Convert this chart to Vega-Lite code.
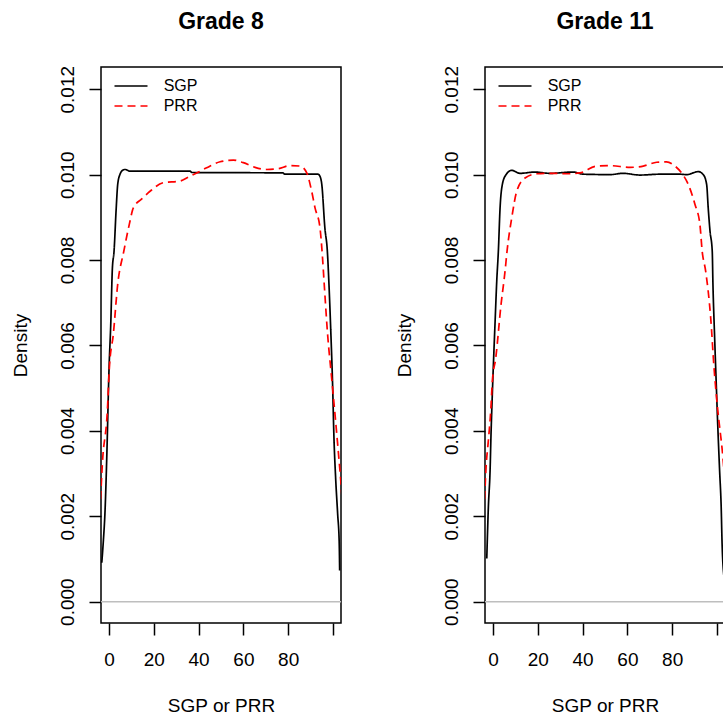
{
  "$schema": "https://vega.github.io/schema/vega-lite/v6.json",
  "padding": {"left": 10, "top": 9, "right": 0, "bottom": 0},
  "background": "white",
  "config": {
    "font": "Liberation Sans",
    "view": {"stroke": "black", "strokeWidth": 1.5},
    "axis": {
      "grid": false, "domain": false, "tickColor": "black", "tickSize": 12, "tickWidth": 1.5,
      "labelFont": "Liberation Sans", "labelFontSize": 19, "labelColor": "black",
      "titleFont": "Liberation Sans", "titleFontSize": 19, "titleFontWeight": "normal", "titleColor": "black",
      "labelFlush": false, "labelOverlap": false
    },
    "title": {"font": "Liberation Sans", "fontSize": 23, "fontWeight": "bold", "color": "black", "baseline": "alphabetic", "offset": 31.7, "anchor": "middle"},
    "legend": {"symbolStrokeWidth": 1.7, "labelFontSize": 16, "labelFont": "Liberation Sans", "labelColor": "black", "padding": 0, "rowPadding": 4}
  },
  "bounds": "flush",
  "spacing": 144,
  "datasets": {
    "g8": [
      {"series": "SGP", "x": -3.26, "y": 0.00091}, {"series": "SGP", "x": -2.54, "y": 0.00143}, {"series": "SGP", "x": -1.79, "y": 0.00213}, {"series": "SGP", "x": -1.03, "y": 0.00337}, {"series": "SGP", "x": 0, "y": 0.00547}, {"series": "SGP", "x": 0.76, "y": 0.0065}, {"series": "SGP", "x": 1.47, "y": 0.00779}, {"series": "SGP", "x": 2.23, "y": 0.00821}, {"series": "SGP", "x": 3.13, "y": 0.00915}, {"series": "SGP", "x": 3.88, "y": 0.00978}, {"series": "SGP", "x": 4.91, "y": 0.01001}, {"series": "SGP", "x": 5.8, "y": 0.01009}, {"series": "SGP", "x": 7.14, "y": 0.01012}, {"series": "SGP", "x": 9.4, "y": 0.01008}, {"series": "SGP", "x": 36.2, "y": 0.01008}, {"series": "SGP", "x": 37, "y": 0.01005}, {"series": "SGP", "x": 77.7, "y": 0.01004}, {"series": "SGP", "x": 78.5, "y": 0.01001}, {"series": "SGP", "x": 93.3, "y": 0.01001}, {"series": "SGP", "x": 94.3, "y": 0.00995}, {"series": "SGP", "x": 95, "y": 0.00978}, {"series": "SGP", "x": 96.4, "y": 0.00875}, {"series": "SGP", "x": 97.5, "y": 0.00821}, {"series": "SGP", "x": 98.3, "y": 0.00734}, {"series": "SGP", "x": 99.0, "y": 0.00639}, {"series": "SGP", "x": 99.9, "y": 0.00498}, {"series": "SGP", "x": 100.4, "y": 0.00393}, {"series": "SGP", "x": 101.2, "y": 0.0029}, {"series": "SGP", "x": 102.1, "y": 0.00206}, {"series": "SGP", "x": 102.8, "y": 0.00138}, {"series": "SGP", "x": 103, "y": 0.00073},
      {"series": "PRR", "x": -3.8, "y": 0.0024}, {"series": "PRR", "x": -2.99, "y": 0.00323}, {"series": "PRR", "x": -0.76, "y": 0.00447}, {"series": "PRR", "x": 0.13, "y": 0.00547}, {"series": "PRR", "x": 1.92, "y": 0.00627}, {"series": "PRR", "x": 3.88, "y": 0.00744}, {"series": "PRR", "x": 6.6, "y": 0.00821}, {"series": "PRR", "x": 9.06, "y": 0.00884}, {"series": "PRR", "x": 10.85, "y": 0.00922}, {"series": "PRR", "x": 14.6, "y": 0.00943}, {"series": "PRR", "x": 18.3, "y": 0.00961}, {"series": "PRR", "x": 24.2, "y": 0.00981}, {"series": "PRR", "x": 31.7, "y": 0.00985}, {"series": "PRR", "x": 35.4, "y": 0.00994}, {"series": "PRR", "x": 39.2, "y": 0.01004}, {"series": "PRR", "x": 43.6, "y": 0.01016}, {"series": "PRR", "x": 49.6, "y": 0.0103}, {"series": "PRR", "x": 55.5, "y": 0.01034}, {"series": "PRR", "x": 60.0, "y": 0.01028}, {"series": "PRR", "x": 65.2, "y": 0.01017}, {"series": "PRR", "x": 70.4, "y": 0.01012}, {"series": "PRR", "x": 75.6, "y": 0.01014}, {"series": "PRR", "x": 80.8, "y": 0.01021}, {"series": "PRR", "x": 85.3, "y": 0.0102}, {"series": "PRR", "x": 88.3, "y": 0.01004}, {"series": "PRR", "x": 90.5, "y": 0.00961}, {"series": "PRR", "x": 92.0, "y": 0.00922}, {"series": "PRR", "x": 94.2, "y": 0.00876}, {"series": "PRR", "x": 95.3, "y": 0.00809}, {"series": "PRR", "x": 96.1, "y": 0.00744}, {"series": "PRR", "x": 97.6, "y": 0.00627}, {"series": "PRR", "x": 99.4, "y": 0.00525}, {"series": "PRR", "x": 101.7, "y": 0.00393}, {"series": "PRR", "x": 103.6, "y": 0.00276}, {"series": "PRR", "x": 104.5, "y": 0.00213}
    ],
    "g11": [
      {"series": "SGP", "x": -2.81, "y": 0.00101}, {"series": "SGP", "x": -2.54, "y": 0.0015}, {"series": "SGP", "x": -2.1, "y": 0.00221}, {"series": "SGP", "x": -1.34, "y": 0.00306}, {"series": "SGP", "x": -0.89, "y": 0.00396}, {"series": "SGP", "x": -0.58, "y": 0.00447}, {"series": "SGP", "x": 0.13, "y": 0.00552}, {"series": "SGP", "x": 0.89, "y": 0.00653}, {"series": "SGP", "x": 1.65, "y": 0.00751}, {"series": "SGP", "x": 2.37, "y": 0.00821}, {"series": "SGP", "x": 3.13, "y": 0.00922}, {"series": "SGP", "x": 4.15, "y": 0.00977}, {"series": "SGP", "x": 5.8, "y": 0.01}, {"series": "SGP", "x": 8.35, "y": 0.0101}, {"series": "SGP", "x": 12.05, "y": 0.01003}, {"series": "SGP", "x": 18.75, "y": 0.01006}, {"series": "SGP", "x": 25.4, "y": 0.01003}, {"series": "SGP", "x": 35.7, "y": 0.01006}, {"series": "SGP", "x": 40.2, "y": 0.01001}, {"series": "SGP", "x": 52.2, "y": 0.01}, {"series": "SGP", "x": 58, "y": 0.01003}, {"series": "SGP", "x": 65.6, "y": 0.00999}, {"series": "SGP", "x": 74.6, "y": 0.01001}, {"series": "SGP", "x": 83.5, "y": 0.01001}, {"series": "SGP", "x": 86.5, "y": 0.01}, {"series": "SGP", "x": 91.7, "y": 0.01007}, {"series": "SGP", "x": 93.9, "y": 0.01}, {"series": "SGP", "x": 95.4, "y": 0.00977}, {"series": "SGP", "x": 96.1, "y": 0.00922}, {"series": "SGP", "x": 96.9, "y": 0.00868}, {"series": "SGP", "x": 97.9, "y": 0.00821}, {"series": "SGP", "x": 98.2, "y": 0.00747}, {"series": "SGP", "x": 99, "y": 0.00614}, {"series": "SGP", "x": 99.7, "y": 0.00509}, {"series": "SGP", "x": 100.4, "y": 0.00408}, {"series": "SGP", "x": 101.2, "y": 0.00306}, {"series": "SGP", "x": 101.9, "y": 0.00221}, {"series": "SGP", "x": 102.3, "y": 0.00136}, {"series": "SGP", "x": 103.1, "y": 0.0006},
      {"series": "PRR", "x": -3.8, "y": 0.0024}, {"series": "PRR", "x": -3.13, "y": 0.00314}, {"series": "PRR", "x": -2.1, "y": 0.00377}, {"series": "PRR", "x": -1.03, "y": 0.00447}, {"series": "PRR", "x": -0.31, "y": 0.00517}, {"series": "PRR", "x": 1.21, "y": 0.00571}, {"series": "PRR", "x": 3.57, "y": 0.00696}, {"series": "PRR", "x": 5.36, "y": 0.00774}, {"series": "PRR", "x": 6.25, "y": 0.00821}, {"series": "PRR", "x": 8.35, "y": 0.00899}, {"series": "PRR", "x": 10.58, "y": 0.00961}, {"series": "PRR", "x": 14.29, "y": 0.00992}, {"series": "PRR", "x": 19.5, "y": 0.01002}, {"series": "PRR", "x": 26.9, "y": 0.01003}, {"series": "PRR", "x": 34.4, "y": 0.01002}, {"series": "PRR", "x": 38.8, "y": 0.01004}, {"series": "PRR", "x": 46.3, "y": 0.0102}, {"series": "PRR", "x": 52.2, "y": 0.01021}, {"series": "PRR", "x": 61.2, "y": 0.01017}, {"series": "PRR", "x": 67.1, "y": 0.0102}, {"series": "PRR", "x": 73.1, "y": 0.01029}, {"series": "PRR", "x": 77.5, "y": 0.0103}, {"series": "PRR", "x": 81.25, "y": 0.0102}, {"series": "PRR", "x": 84.2, "y": 0.01004}, {"series": "PRR", "x": 87.2, "y": 0.00977}, {"series": "PRR", "x": 90.2, "y": 0.0093}, {"series": "PRR", "x": 92.4, "y": 0.00883}, {"series": "PRR", "x": 93.4, "y": 0.00821}, {"series": "PRR", "x": 94.96, "y": 0.00774}, {"series": "PRR", "x": 97.2, "y": 0.00665}, {"series": "PRR", "x": 98.7, "y": 0.00548}, {"series": "PRR", "x": 100.4, "y": 0.00447}, {"series": "PRR", "x": 102.4, "y": 0.00353}, {"series": "PRR", "x": 103.6, "y": 0.00283}, {"series": "PRR", "x": 104.5, "y": 0.0025}
    ]
  },
  "hconcat": [
    {
      "width": 240, "height": 556,
      "title": "Grade 8",
      "resolve": {"scale": {"color": "independent", "strokeDash": "independent"}},
      "layer": [
        {
          "data": {"values": [{"zero": 0}]},
          "mark": {"type": "rule", "color": "#BEBEBE", "strokeWidth": 1.5},
          "encoding": {"y": {"field": "zero", "type": "quantitative", "scale": {"domain": [-0.0005, 0.01252], "nice": false, "zero": false}}}
        },
        {
          "data": {"name": "g8"},
          "mark": {"type": "line", "clip": true, "strokeWidth": 1.7, "interpolate": "monotone"},
          "encoding": {
            "x": {"field": "x", "type": "quantitative", "scale": {"domain": [-3.6, 103.6], "nice": false, "zero": false},
              "axis": {"values": [0, 20, 40, 60, 80, 100], "labelExpr": "datum.value == 100 ? '' : datum.label", "title": "SGP or PRR", "labelBaseline": "alphabetic", "labelPadding": 30, "titleBaseline": "alphabetic", "titleY": 88.5}},
            "y": {"field": "y", "type": "quantitative", "scale": {"domain": [-0.0005, 0.01252], "nice": false, "zero": false},
              "axis": {"values": [0, 0.002, 0.004, 0.006, 0.008, 0.01, 0.012], "format": ".3f", "title": "Density", "labelAngle": -90, "labelAlign": "center", "labelBaseline": "alphabetic", "labelPadding": 16, "titleAngle": -90, "titleAlign": "center", "titleBaseline": "middle", "titleX": -81, "titleY": 278}},
            "color": {"field": "series", "type": "nominal", "scale": {"domain": ["SGP", "PRR"], "range": ["black", "#FF0000"]},
              "legend": {"orient": "none", "legendX": 22, "legendY": 11, "title": null, "symbolType": "M-3,0H3", "symbolSize": 121, "labelOffset": 24.7}},
            "strokeDash": {"field": "series", "type": "nominal", "scale": {"domain": ["SGP", "PRR"], "range": [[1, 0], [8, 5]]},
              "legend": {"orient": "none", "legendX": 22, "legendY": 11, "title": null, "symbolType": "M-3,0H3", "symbolSize": 121, "labelOffset": 24.7}}
          }
        }
      ]
    },
    {
      "width": 240, "height": 556,
      "title": "Grade 11",
      "resolve": {"scale": {"color": "independent", "strokeDash": "independent"}},
      "layer": [
        {
          "data": {"values": [{"zero": 0}]},
          "mark": {"type": "rule", "color": "#BEBEBE", "strokeWidth": 1.5},
          "encoding": {"y": {"field": "zero", "type": "quantitative", "scale": {"domain": [-0.0005, 0.01252], "nice": false, "zero": false}}}
        },
        {
          "data": {"name": "g11"},
          "mark": {"type": "line", "clip": true, "strokeWidth": 1.7, "interpolate": "monotone"},
          "encoding": {
            "x": {"field": "x", "type": "quantitative", "scale": {"domain": [-3.6, 103.6], "nice": false, "zero": false},
              "axis": {"values": [0, 20, 40, 60, 80, 100], "labelExpr": "datum.value == 100 ? '' : datum.label", "title": "SGP or PRR", "labelBaseline": "alphabetic", "labelPadding": 30, "titleBaseline": "alphabetic", "titleY": 88.5}},
            "y": {"field": "y", "type": "quantitative", "scale": {"domain": [-0.0005, 0.01252], "nice": false, "zero": false},
              "axis": {"values": [0, 0.002, 0.004, 0.006, 0.008, 0.01, 0.012], "format": ".3f", "title": "Density", "labelAngle": -90, "labelAlign": "center", "labelBaseline": "alphabetic", "labelPadding": 16, "titleAngle": -90, "titleAlign": "center", "titleBaseline": "middle", "titleX": -81, "titleY": 278}},
            "color": {"field": "series", "type": "nominal", "scale": {"domain": ["SGP", "PRR"], "range": ["black", "#FF0000"]},
              "legend": {"orient": "none", "legendX": 22, "legendY": 11, "title": null, "symbolType": "M-3,0H3", "symbolSize": 121, "labelOffset": 24.7}},
            "strokeDash": {"field": "series", "type": "nominal", "scale": {"domain": ["SGP", "PRR"], "range": [[1, 0], [8, 5]]},
              "legend": {"orient": "none", "legendX": 22, "legendY": 11, "title": null, "symbolType": "M-3,0H3", "symbolSize": 121, "labelOffset": 24.7}}
          }
        }
      ]
    }
  ]
}
